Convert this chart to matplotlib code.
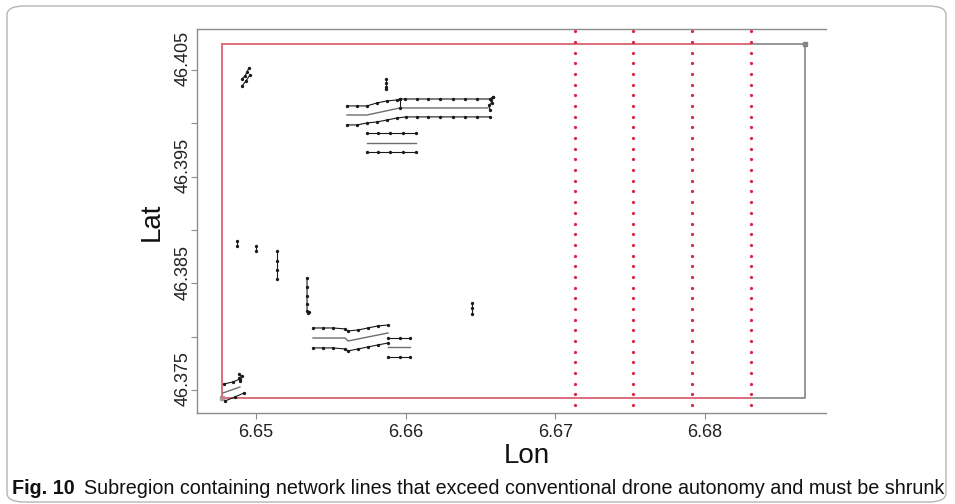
import matplotlib
matplotlib.use("Agg")
import matplotlib.pyplot as plt
from matplotlib.patches import FancyBboxPatch
from matplotlib import font_manager
import matplotlib.transforms as mtransforms
import numpy as np

# ---------------- data ----------------
x_ticks = [6.65, 6.66, 6.67, 6.68]
x_ticklabels = ["6.65", "6.66", "6.67", "6.68"]
y_ticks = [46.375, 46.385, 46.395, 46.405]
y_ticklabels = ["46.375", "46.385", "46.395", "46.405"]
y_minor = [46.380, 46.390, 46.400]

# bounding region (grey) and subregion (red)
box_lon = [6.6477, 6.6867, 6.6867, 6.6477, 6.6477]
box_lat = [46.4074, 46.4074, 46.3742, 46.3742, 46.4074]
sub_lon = [6.6831, 6.6477, 6.6477, 6.6831]
sub_lat = [46.4074, 46.4074, 46.3742, 46.3742]

# red dotted cut lines
cut_lon = [6.6713, 6.6752, 6.6791, 6.6831]
cut_lat = [46.3736, 46.3746, 46.3756, 46.3766, 46.3776, 46.3786, 46.3796, 46.3806,
           46.3816, 46.3826, 46.3836, 46.3846, 46.3856, 46.3866, 46.3876, 46.3886,
           46.3896, 46.3906, 46.3916, 46.3926, 46.3936, 46.3946, 46.3956, 46.3966,
           46.3976, 46.3986, 46.3996, 46.4006, 46.4016, 46.4026, 46.4036, 46.4046,
           46.4056, 46.4066, 46.4076, 46.4086]

# network lines with waypoints (black)
nw1_lon = [6.64906, 6.64933, 6.64960]
nw1_lat = [46.40349, 46.40396, 46.40452]
nw2_lon = [6.64906, 6.64927, 6.64940, 6.64953]
nw2_lat = [46.40415, 46.40443, 46.40480, 46.40518]
vc1_lon = [6.65868, 6.65868, 6.65868, 6.65868]
vc1_lat = [46.40415, 46.40377, 46.40340, 46.40321]
top_lon = [6.65608, 6.65675, 6.65741, 6.65808, 6.65875, 6.65942, 6.65962, 6.65995,
           6.66075, 6.66149, 6.66229, 6.66316, 6.66396, 6.66476, 6.66563, 6.66583]
top_lat = [46.40162, 46.40162, 46.40162, 46.40190, 46.40209, 46.40218, 46.40227, 46.40227,
           46.40227, 46.40227, 46.40227, 46.40227, 46.40227, 46.40227, 46.40227, 46.40246]
end_lon = [6.66583, 6.66570, 6.66576, 6.66556, 6.66563]
end_lat = [46.40246, 46.40218, 46.40190, 46.40171, 46.40124]
conn_lon = [6.65962, 6.65962]
conn_lat = [46.40227, 46.40143]
bot_lon = [6.65608, 6.65675, 6.65741, 6.65808, 6.65875, 6.65942, 6.66002, 6.66075,
           6.66149, 6.66229, 6.66316, 6.66396, 6.66476, 6.66563]
bot_lat = [46.39984, 46.39984, 46.40002, 46.40012, 46.40030, 46.40049, 46.40059, 46.40059,
           46.40059, 46.40059, 46.40059, 46.40059, 46.40059, 46.40059]
r8_lon = [6.65741, 6.65815, 6.65895, 6.65982, 6.66069]
r8_lat = [46.39909, 46.39909, 46.39909, 46.39909, 46.39909]
r10_lon = [6.65741, 6.65815, 6.65895, 6.65982, 6.66069]
r10_lat = [46.39731, 46.39731, 46.39731, 46.39731, 46.39731]
p11_lon = [6.64873, 6.64873]
p11_lat = [46.38896, 46.38850]
p12_lon = [6.65000, 6.65000]
p12_lat = [46.38850, 46.38803]
v13_lon = [6.65140, 6.65140, 6.65140, 6.65140]
v13_lat = [46.38803, 46.38709, 46.38625, 46.38540]
v14_lon = [6.65341, 6.65341, 6.65341, 6.65341, 6.65341, 6.65348, 6.65354]
v14_lat = [46.38550, 46.38465, 46.38381, 46.38306, 46.38240, 46.38222, 46.38231]
v15_lon = [6.66443, 6.66443, 6.66443]
v15_lat = [46.38315, 46.38269, 46.38212]
s1_lon = [6.65381, 6.65448, 6.65514, 6.65595, 6.65615, 6.65681, 6.65748, 6.65815, 6.65882]
s1_lat = [46.38081, 46.38081, 46.38081, 46.38072, 46.38053, 46.38062, 46.38081, 46.38100, 46.38109]
s3_lon = [6.65381, 6.65448, 6.65514, 6.65595, 6.65615, 6.65681, 6.65748, 6.65815, 6.65882]
s3_lat = [46.37894, 46.37894, 46.37894, 46.37884, 46.37866, 46.37884, 46.37903, 46.37922, 46.37940]
s4_lon = [6.65882, 6.65962, 6.66029]
s4_lat = [46.37987, 46.37987, 46.37987]
s6_lon = [6.65882, 6.65962, 6.66029]
s6_lat = [46.37809, 46.37809, 46.37809]
bl1_lon = [6.64786, 6.64846, 6.64893]
bl1_lat = [46.37556, 46.37575, 46.37603]
bl2_lon = [6.64886, 6.64906, 6.64886, 6.64893]
bl2_lat = [46.37650, 46.37631, 46.37612, 46.37584]
bl3_lon = [6.64793, 6.64860, 6.64920]
bl3_lat = [46.37397, 46.37434, 46.37472]

# centre lines without waypoints (grey)
g1_lon = [6.65608, 6.65741, 6.65962, 6.66549]
g1_lat = [46.40077, 46.40077, 46.40143, 46.40143]
g2_lon = [6.65741, 6.66069]
g2_lat = [46.39815, 46.39815]
g3_lon = [6.65381, 6.65595, 6.65615, 6.65882]
g3_lat = [46.37987, 46.37987, 46.37959, 46.38034]
g4_lon = [6.65882, 6.66029]
g4_lat = [46.37903, 46.37903]
g5_lon = [6.64780, 6.64893]
g5_lat = [46.37472, 46.37528]

# ---------------- figure ----------------
W, H = 955, 504
fig = plt.figure(figsize=(W / 100, H / 100), dpi=100)

frame = FancyBboxPatch((7 / W, 2 / H), 939 / W, 496 / H,
                       boxstyle="round,pad=0,rounding_size=0.018",
                       transform=fig.transFigure, fill=False,
                       edgecolor="#b5b5b5", linewidth=1.0)
fig.patches.append(frame)

L, R, B, T = 197, 826, 413, 29
ax = fig.add_axes([L / W, 1 - B / H, (R - L) / W, (B - T) / H])
ax.set_xlim(6.64606, 6.68808)
ax.set_ylim(46.37284, 46.40883)

spine_c = "#8c8c8c"
for s in ["left", "bottom", "top"]:
    ax.spines[s].set_color(spine_c)
    ax.spines[s].set_linewidth(1.0)
ax.spines["right"].set_visible(False)

ax.plot(box_lon, box_lat, color="#858585", lw=1.2, zorder=1)
ax.plot([box_lon[1]], [box_lat[1]], "s", color="#858585", ms=2.5, zorder=1)
ax.plot([box_lon[3]], [box_lat[3]], "s", color="#a0a0a0", ms=2.5, zorder=1)
ax.plot(sub_lon, sub_lat, color="#ea6b78", lw=1.2, zorder=2)

for lon in cut_lon:
    ax.plot(np.full(len(cut_lat), lon), cut_lat, "o", color="#d8283c",
            ms=2.3, mec="none", zorder=3)

black_lines = [(nw1_lon, nw1_lat), (nw2_lon, nw2_lat), (vc1_lon, vc1_lat),
               (top_lon, top_lat), (end_lon, end_lat), (conn_lon, conn_lat),
               (bot_lon, bot_lat), (r8_lon, r8_lat), (r10_lon, r10_lat),
               (p11_lon, p11_lat), (p12_lon, p12_lat), (v13_lon, v13_lat),
               (v14_lon, v14_lat), (v15_lon, v15_lat), (s1_lon, s1_lat),
               (s3_lon, s3_lat), (s4_lon, s4_lat), (s6_lon, s6_lat),
               (bl1_lon, bl1_lat), (bl2_lon, bl2_lat), (bl3_lon, bl3_lat)]
for lo, la in black_lines:
    ax.plot(lo, la, "-o", color="#1a1a1a", lw=0.8, ms=2.4, mec="none", zorder=5)

grey_lines = [(g1_lon, g1_lat), (g2_lon, g2_lat), (g3_lon, g3_lat),
              (g4_lon, g4_lat), (g5_lon, g5_lat)]
for lo, la in grey_lines:
    ax.plot(lo, la, "-", color="#6e6e6e", lw=1.0, zorder=4)

font = "Liberation Sans"
ax.set_xticks(x_ticks)
ax.set_xticklabels(x_ticklabels, fontsize=13, family=font, color="#222222")
ax.set_yticks(y_ticks)
ax.set_yticklabels(y_ticklabels, fontsize=13, family=font, color="#222222",
                   rotation=90, va="center")
ax.set_yticks(y_minor, minor=True)
ax.tick_params(axis="both", which="both", length=4, width=0.8, color=spine_c)
ax.tick_params(axis="x", pad=4)
ax.tick_params(axis="y", pad=1)
shift = mtransforms.ScaledTranslation(2 / 100, 11 / 100, fig.dpi_scale_trans)
for lab in ax.get_yticklabels():
    lab.set_transform(lab.get_transform() + shift)

fig.text(527 / W, 1 - 456 / H, "Lon", fontsize=20, family=font,
         ha="center", va="center", color="#111111")
fig.text(152 / W, 1 - 222 / H, "Lat", fontsize=20, family=font, rotation=90,
         ha="center", va="center", color="#111111")

# caption
cap_font = font
try:
    font_manager.findfont("Liberation Sans Narrow", fallback_to_default=False)
    cap_font = "Liberation Sans Narrow"
except Exception:
    pass
renderer = fig.canvas.get_renderer()
cap_y = 1 - 488 / H
c1 = fig.text(12 / W, cap_y, "Fig. 10", fontsize=12, fontweight="bold",
              family=cap_font, va="center", ha="left", color="#111111")
c2 = fig.text(0, cap_y, "Subregion containing network lines that exceed conventional "
              "drone autonomy and must be shrunk", fontsize=12, family=cap_font,
              va="center", ha="left", color="#111111")
w1 = c1.get_window_extent(renderer).width
w2 = c2.get_window_extent(renderer).width
gap = 9
scale = (944 - 12 - gap) / (w1 + w2)
size = 12 * scale
c1.set_fontsize(size)
c2.set_fontsize(size)
w1 = c1.get_window_extent(renderer).width
c2.set_x((12 + w1 + gap) / W)

fig.savefig("out.png", dpi=100)
